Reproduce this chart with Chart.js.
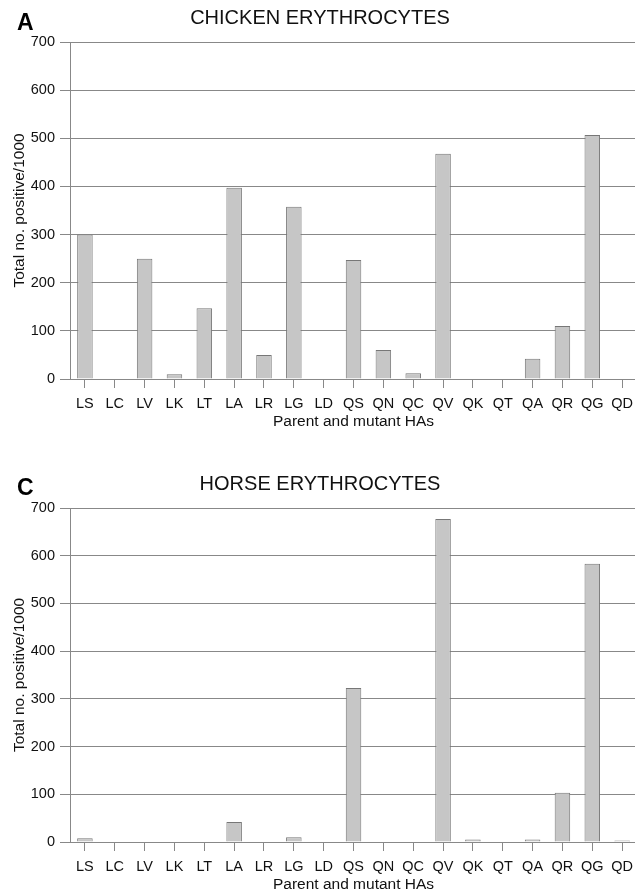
<!DOCTYPE html>
<html>
<head>
<meta charset="utf-8">
<script src="https://cdn.jsdelivr.net/npm/chart.js"></script>
<style>
  html, body { margin: 0; padding: 0; background: #fff; overflow: hidden; }
  .panel { position: absolute; left: 0; width: 640px; }
  .letter { position: absolute; left: 17px; font: bold 23px "Liberation Sans", Arial, sans-serif; line-height: 23px; color: #000; }
</style>
</head>
<body>
<div class="panel" style="top:0; height:440px;"><canvas id="chicken"></canvas></div>
<div class="panel" style="top:466px; height:437px;"><canvas id="horse"></canvas></div>
<div class="letter" style="top:11px;">A</div>
<div class="letter" style="top:476px;">C</div>
<script>
// Parent and mutant HAs on the x axis
const haLabels = ['LS', 'LC', 'LV', 'LK', 'LT', 'LA', 'LR', 'LG', 'LD',
                  'QS', 'QN', 'QC', 'QV', 'QK', 'QT', 'QA', 'QR', 'QG', 'QD'];

// total no. positive / 1000
const chickenValues = [300, 0, 250, 10, 147, 397, 50, 358, 0,
                       247, 60, 12, 468, 0, 0, 42, 110, 507, 0];
const horseValues = [8, 0, 0, 0, 0, 42, 0, 10, 0,
                     323, 1, 0, 677, 5, 0, 5, 103, 583, 3];

const yMin = 0;
const yMax = 700;
const yStep = 100;

const fontFamily = '"Liberation Sans", Arial, sans-serif';
const gridColor = '#888';

function makeChart(id, title, values) {
  const ctx = document.getElementById(id).getContext('2d');
  return new Chart(ctx, {
    type: 'bar',
    data: {
      labels: haLabels,
      datasets: [{
        data: values,
        backgroundColor: '#c6c6c6',
        borderColor: '#777',
        borderWidth: 1,
        categoryPercentage: 1,
        barPercentage: 0.52
      }]
    },
    options: {
      responsive: true,
      maintainAspectRatio: false,
      animation: false,
      layout: { padding: 0 },
      plugins: {
        legend: { display: false },
        tooltip: { enabled: false },
        title: {
          display: true,
          text: title,
          color: '#111',
          font: { family: fontFamily, size: 20, weight: 'normal' },
          padding: { top: 6, bottom: 12 }
        }
      },
      scales: {
        x: {
          grid: {
            display: true,
            offset: false,
            drawOnChartArea: false,
            drawTicks: true,
            tickLength: 9,
            color: gridColor
          },
          border: { display: true, color: gridColor },
          ticks: {
            color: '#111',
            padding: 7,
            maxRotation: 0,
            autoSkip: false,
            font: { family: fontFamily, size: 14.5 }
          },
          title: {
            display: true,
            text: 'Parent and mutant HAs',
            color: '#111',
            font: { family: fontFamily, size: 15.5 },
            padding: { top: 0, bottom: 8.5 }
          },
          afterFit: (scale) => { scale.height = 61; }
        },
        y: {
          min: yMin,
          max: yMax,
          ticks: {
            stepSize: yStep,
            color: '#111',
            padding: 5,
            font: { family: fontFamily, size: 14.5 }
          },
          grid: {
            color: gridColor,
            tickLength: 10
          },
          border: { display: true, color: gridColor },
          title: {
            display: true,
            text: 'Total no. positive/1000',
            color: '#111',
            font: { family: fontFamily, size: 15.5 },
            padding: { top: 10.5, bottom: 0 }
          },
          afterFit: (scale) => { scale.width = 70; }
        }
      }
    }
  });
}

makeChart('chicken', 'CHICKEN ERYTHROCYTES', chickenValues);
makeChart('horse', 'HORSE ERYTHROCYTES', horseValues);
</script>
</body>
</html>
